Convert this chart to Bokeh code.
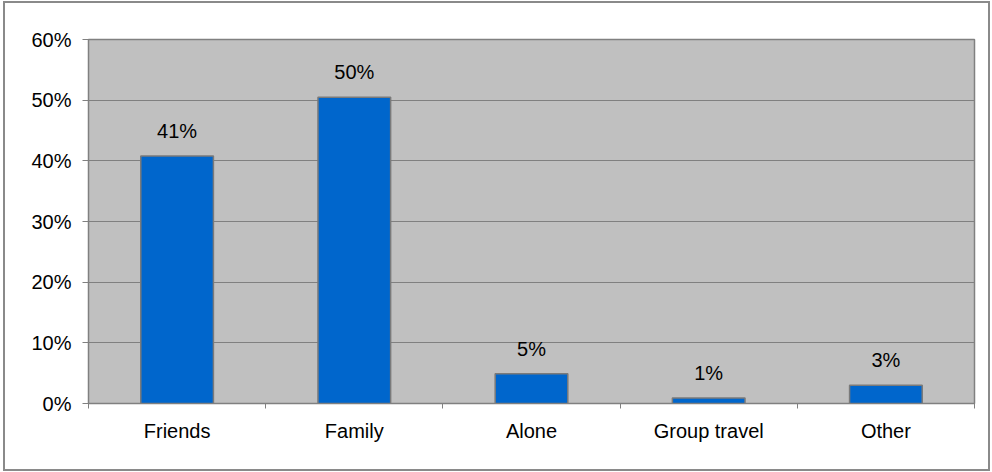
from bokeh.plotting import figure
from bokeh.layouts import column
from bokeh.models import FixedTicker, PrintfTickFormatter, ColumnDataSource, Range1d
from bokeh.core.properties import value
from bokeh.embed import file_html
from bokeh.resources import INLINE

categories = ["Friends", "Family", "Alone", "Group travel", "Other"]
shares = [40.8, 50.5, 4.9, 0.9, 3.0]
share_labels = ["41%", "50%", "5%", "1%", "3%"]
y_ticks = [0, 10, 20, 30, 40, 50, 60]

FONT = "Liberation Sans"
FS = "20px"

# figure sits inside a bordered box whose outer edge is at x=3..991, y=1..471
W, H = 983, 466
ML, MR, MT, MB = 83, 14, 36, 66

xpos = [i + 0.5 for i in range(len(categories))]
src = ColumnDataSource(dict(x=xpos, top=shares, label=share_labels))

p = figure(width=W, height=H, output_backend="svg", toolbar_location=None,
           x_range=Range1d(0, len(categories)), y_range=Range1d(0, 60),
           min_border_left=ML, min_border_right=MR, min_border_top=MT, min_border_bottom=MB)
p.background_fill_color = "#C0C0C0"
p.border_fill_color = "white"
p.outline_line_color = "#808080"
p.outline_line_width = 1.5

p.vbar(x="x", top="top", width=0.41, bottom=0, source=src,
       fill_color="#0066CC", line_color="#7a7a7a", line_width=1.5)
p.text(x="x", y="top", text="label", source=src, text_align="center",
       text_baseline="middle", y_offset=-25, text_font=value(FONT),
       text_font_size=FS, text_color="black")

# x axis
p.xaxis.ticker = FixedTicker(ticks=xpos, minor_ticks=list(range(len(categories) + 1)))
p.xaxis.major_label_overrides = {x: c for x, c in zip(xpos, categories)}
p.xaxis.major_tick_out = 0
p.xaxis.major_tick_in = 0
p.xaxis.minor_tick_out = 5
p.xaxis.minor_tick_in = 0
p.xaxis.minor_tick_line_color = "#808080"
p.xaxis.axis_line_color = "#808080"
p.xaxis.major_label_standoff = 11
p.xaxis.major_label_text_font = FONT
p.xaxis.major_label_text_font_size = FS
p.xaxis.major_label_text_color = "black"

# y axis
p.yaxis.ticker = FixedTicker(ticks=y_ticks)
p.yaxis.formatter = PrintfTickFormatter(format="%d%%")
p.yaxis.major_tick_out = 6
p.yaxis.major_tick_in = 0
p.yaxis.minor_tick_line_color = None
p.yaxis.major_tick_line_color = "#808080"
p.yaxis.axis_line_color = "#808080"
p.yaxis.major_label_standoff = 11
p.yaxis.major_label_text_font = FONT
p.yaxis.major_label_text_font_size = FS
p.yaxis.major_label_text_color = "black"

p.xgrid.grid_line_color = None
p.ygrid.grid_line_color = "#808080"
p.ygrid.grid_line_width = 1

layout = column(p, styles={"border": "2px solid #8a8a8a", "margin-left": "3px",
                           "margin-top": "1px", "background-color": "white"})

open("out.html", "w").write(file_html(layout, INLINE))
